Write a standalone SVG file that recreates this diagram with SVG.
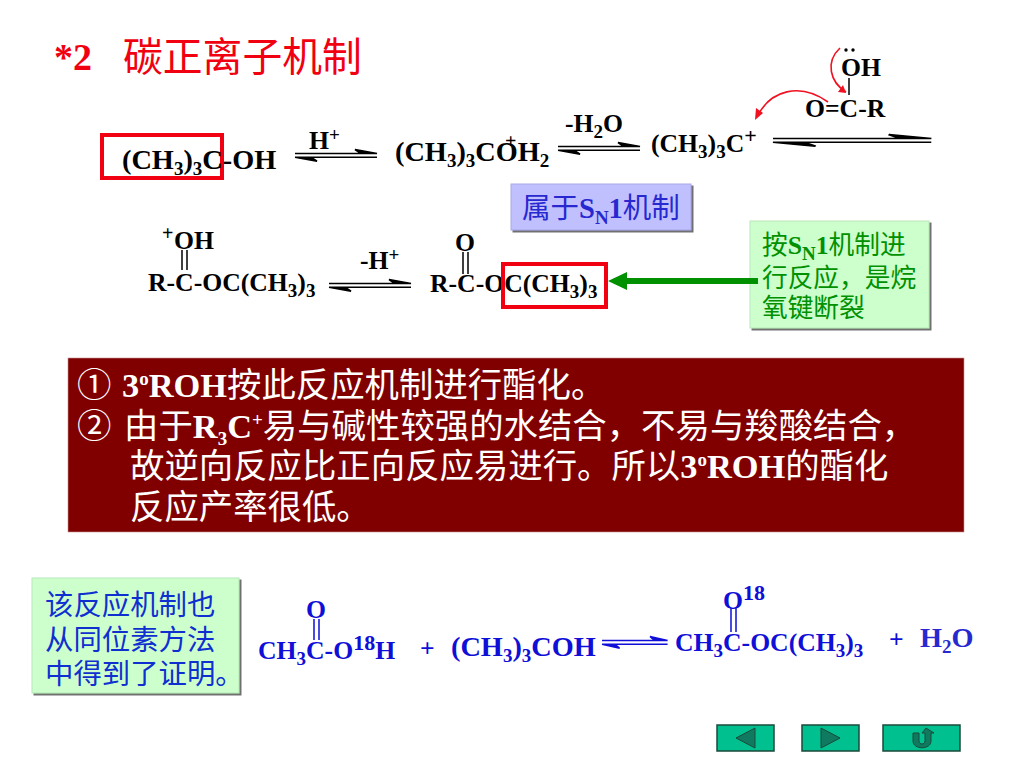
<svg xmlns="http://www.w3.org/2000/svg" width="1024" height="768" viewBox="0 0 1024 768">
<style>
text{white-space:pre}
.c{font-family:"Liberation Serif","Noto Sans CJK SC",serif;font-weight:700;font-size:25.7px;fill:#000}
.big{font-size:28.3px}
.b{fill:#0f0fd8}
.s{font-size:19px}
.u{font-size:22px}
.z{font-family:"Noto Sans CJK SC","Liberation Serif",sans-serif;font-weight:400}
.w{fill:#fff;font-size:34.4px}
.g{fill:#009000;font-size:25.7px}
.n{font-size:28.4px;fill:#0f2fd0}
.l{stroke:#000;stroke-width:1.5;fill:none}
.nb{fill:#00c090;stroke:#1a4a3a;stroke-width:1.5}
.ng{fill:#0f7a60;stroke:#1a4a3a}
</style>
<defs>
<filter id="sh" x="-5%" y="-5%" width="110%" height="115%"><feDropShadow dx="2" dy="2" stdDeviation="0.4" flood-color="#707070"/></filter>
<g id="eq"><path d="M0 -1.5H82L60 -5.5L66 -1.5M0 2.2H82M0 2.2L22 6.2L16 2.2" stroke="currentColor" stroke-width="1.6" fill="currentColor"/></g>
</defs>
<rect width="1024" height="768" fill="#fff"/>
<g id="title"><text x="54" y="70" class="c" style="font-size:38px;fill:#f00010">*2</text><text x="123" y="71" class="z" style="font-size:39.8px;fill:#f00010">碳正离子机制</text></g>
<g id="box1"><rect x="102" y="135" width="120" height="43" fill="none" stroke="#f00010" stroke-width="4"/></g>
<g id="m1"><text x="122" y="169" class="c big">(CH<tspan class="s" dy="6">3</tspan><tspan dy="-6">)</tspan><tspan class="s" dy="6">3</tspan><tspan dy="-6">C-OH</tspan></text></g>
<g id="hplus"><text x="309" y="149" class="c">H<tspan class="s" dy="-8">+</tspan></text></g>
<g id="m2"><text x="395" y="161" class="c big">(CH<tspan class="s" dy="6">3</tspan><tspan dy="-6">)</tspan><tspan class="s" dy="6">3</tspan><tspan dy="-6">COH</tspan><tspan class="s" dy="6">2</tspan></text><text x="505" y="148" class="c" style="font-size:20px">+</text></g>
<g id="h2o"><text x="565" y="132" class="c">-H<tspan class="s" dy="6">2</tspan><tspan dy="-6">O</tspan></text></g>
<g id="m3"><text x="651" y="152" class="c">(CH<tspan class="s" dy="6">3</tspan><tspan dy="-6">)</tspan><tspan class="s" dy="6">3</tspan><tspan dy="-6">C</tspan><tspan dy="-9" class="u">+</tspan></text></g>
<g id="acid"><text x="841" y="76" class="c">OH</text><circle cx="846" cy="50" r="1.7"/><circle cx="853" cy="50" r="1.7"/><text x="805" y="117" class="c">O=C-R</text></g>
<g id="sn1"><rect x="511" y="184" width="180" height="46" fill="#c0c0ff" stroke="#a8a8e8" filter="url(#sh)"/><text x="522" y="218" class="c" style="fill:#2828d0;font-size:28.5px"><tspan class="z">属于</tspan>S<tspan class="s" dy="6">N</tspan><tspan dy="-6">1</tspan><tspan class="z">机制</tspan></text></g>
<g id="m4"><text x="174" y="249" class="c">OH</text><text x="162" y="240" class="c" style="font-size:20px">+</text><text x="148" y="291" class="c">R-C-OC(CH<tspan class="s" dy="6">3</tspan><tspan dy="-6">)</tspan><tspan class="s" dy="6">3</tspan></text></g>
<g id="hminus"><text x="360" y="269" class="c">-H<tspan class="s" dy="-8">+</tspan></text></g>
<g id="m5"><text x="455" y="251" class="c">O</text><text x="430" y="292" class="c">R-C-OC(CH<tspan class="s" dy="6">3</tspan><tspan dy="-6">)</tspan><tspan class="s" dy="6">3</tspan></text></g>
<g id="box2"><rect x="503" y="264" width="103" height="43" fill="none" stroke="#f00010" stroke-width="4"/></g>
<g id="note1"><rect x="750" y="221" width="179" height="107" fill="#ccffcc" stroke="#b8e8b8" filter="url(#sh)"/>
<text x="762" y="254" class="c g"><tspan class="z">按</tspan>S<tspan class="s" dy="6">N</tspan><tspan dy="-6">1</tspan><tspan class="z">机制进</tspan></text>
<text x="762" y="287" class="z g">行反应，是烷</text><text x="762" y="317" class="z g">氧键断裂</text></g>
<g id="panel"><rect x="68" y="358" width="896" height="174" fill="#800000" stroke="#c89090" stroke-width="0.6"/>
<text x="77" y="397" class="z w">①</text>
<text x="122" y="397" class="c w">3<tspan class="s" dy="-12">o</tspan><tspan dy="12">ROH</tspan><tspan class="z">按此反应机制进行酯化。</tspan></text>
<text x="77" y="438" class="z w">②</text>
<text x="124" y="438" class="c w"><tspan class="z">由于</tspan>R<tspan class="s" dy="7">3</tspan><tspan dy="-7">C</tspan><tspan class="s" dy="-12">+</tspan><tspan class="z" dy="12">易与碱性较强的水结合，不易与羧酸结合，</tspan></text>
<text x="130" y="478" class="c w"><tspan class="z">故逆向反应比正向反应易进行。所以</tspan>3<tspan class="s" dy="-12">o</tspan><tspan dy="12">ROH</tspan><tspan class="z">的酯化</tspan></text>
<text x="130" y="519" class="z w">反应产率很低。</text></g>
<g id="note2"><rect x="32" y="578" width="207" height="115" fill="#ccffcc" stroke="#b8e8b8" filter="url(#sh)"/>
<text x="45" y="615" class="z n">该反应机制也</text><text x="45" y="650" class="z n">从同位素方法</text><text x="45" y="684" class="z n">中得到了证明。</text></g>
<g id="r1"><text x="306" y="618" class="c b">O</text><text x="258" y="659" class="c b">CH<tspan class="s" dy="6">3</tspan><tspan dy="-6">C-O</tspan><tspan class="u" dy="-9">18</tspan><tspan dy="9">H</tspan></text></g>
<g id="plus1"><text x="420" y="657" class="c b">+</text></g>
<g id="r2"><text x="451" y="656" class="c b big">(CH<tspan class="s" dy="6">3</tspan><tspan dy="-6">)</tspan><tspan class="s" dy="6">3</tspan><tspan dy="-6">COH</tspan></text></g>
<g id="p1"><text x="723" y="609" class="c b">O<tspan class="u" dy="-9">18</tspan></text><text x="675" y="651" class="c b">CH<tspan class="s" dy="6">3</tspan><tspan dy="-6">C-OC(CH</tspan><tspan class="s" dy="6">3</tspan><tspan dy="-6">)</tspan><tspan class="s" dy="6">3</tspan></text></g>
<g id="plus2"><text x="889" y="648" class="c b">+</text></g>
<g id="p2"><text x="920" y="647" class="c" style="font-size:28.3px;fill:#2828d0">H<tspan class="s" dy="6">2</tspan><tspan dy="-6">O</tspan></text></g>
<g id="nav1"><rect x="717" y="725" width="57" height="26" class="nb"/><path d="M736 738L755 728V748Z" class="ng"/></g>
<g id="nav2"><rect x="802" y="725" width="57" height="26" class="nb"/><path d="M840 738L821 728V748Z" class="ng"/></g>
<g id="nav3"><rect x="883" y="725" width="77" height="26" class="nb"/><path d="M913 733V741C913 750 931 750 931 741V733H934L926 728L922 733H925V741C925 745 919 745 919 741V733Z" class="ng"/></g>
<g id="connectors">
<use href="#eq" x="295" y="155" color="#000"/>
<use href="#eq" x="558" y="148" color="#000"/>
<g transform="translate(773 140) scale(1.93 1)"><use href="#eq" color="#000"/></g>
<use href="#eq" x="329" y="285" color="#000"/>
<g transform="translate(602 642) scale(0.8 1)"><use href="#eq" color="#0f0fd8"/></g>
<path d="M849 78V95" class="l"/>
<path d="M182 250V270M187 250V270M463 252V274M468 252V274" class="l"/>
<path d="M314 619V640M319 619V640M731 608V632M736 608V632" stroke="#0f0fd8" stroke-width="1.5" fill="none"/>
<path d="M840 48C825 62 830 82 846 92" stroke="#f01020" stroke-width="1.6" fill="none"/>
<path d="M846 93L838 92L843 85Z" fill="#f01020"/>
<path d="M828 102C800 82 770 90 757 117" stroke="#f01020" stroke-width="1.6" fill="none"/>
<path d="M755 120L756 108L763 113Z" fill="#f01020"/>
<path d="M625 281H758" stroke="#009000" stroke-width="6"/>
<path d="M608 281L627 272V290Z" fill="#009000"/>
</g>
</svg>
